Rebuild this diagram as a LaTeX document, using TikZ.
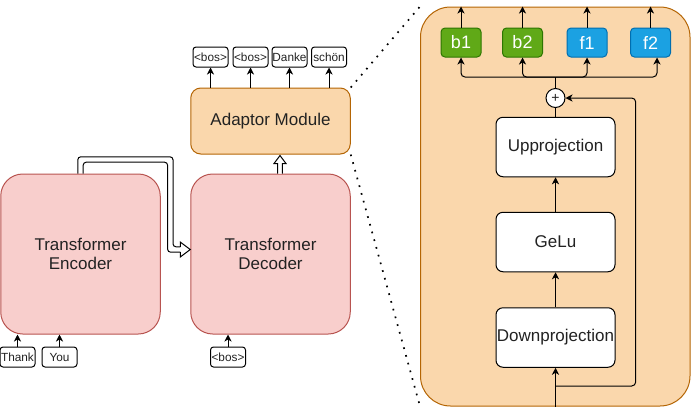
\documentclass[tikz,border=0pt]{standalone}
\usepackage{fontspec}
\setmainfont{Liberation Sans}
\usetikzlibrary{arrows.meta,calc}
\definecolor{redfill}{HTML}{F8CECC}
\definecolor{redline}{HTML}{B85450}
\definecolor{orfill}{HTML}{FAD7AC}
\definecolor{orline}{HTML}{B46504}
\definecolor{grfill}{HTML}{60A917}
\definecolor{grline}{HTML}{2D7600}
\definecolor{blfill}{HTML}{1BA1E2}
\definecolor{blline}{HTML}{006EAF}
\definecolor{txt}{HTML}{222222}
\newcommand\mainfs{\fontsize{17}{19.5}\selectfont}
\newcommand\tokfs{\fontsize{11.8}{13}\selectfont}
\begin{document}
\begin{tikzpicture}[x=1pt,y=-1pt,
  every node/.style={text=txt},
  bigbox/.style={draw=redline, fill=redfill, line width=1pt, rounded corners=22pt,
    minimum width=159.5pt, minimum height=160pt, align=center, font=\mainfs},
  adbox/.style={draw=orline, fill=orfill, line width=1pt, rounded corners=10pt,
    minimum width=159.5pt, minimum height=66pt, font=\mainfs},
  contbox/.style={draw=orline, fill=orfill, line width=1pt, rounded corners=30pt,
    minimum width=269.5pt, minimum height=399pt},
  token/.style={draw=black, fill=white, line width=1pt, rounded corners=3pt,
    minimum width=35pt, minimum height=20pt, inner sep=0pt, font=\tokfs},
  wbox/.style={draw=black, fill=white, line width=1pt, rounded corners=7pt,
    minimum width=119pt, minimum height=59.5pt, inner sep=0pt, font=\mainfs},
  gbox/.style={draw=grline, fill=grfill, line width=1pt, rounded corners=4pt,
    minimum width=40pt, minimum height=29pt, inner sep=0pt, font=\fontsize{18}{18}\selectfont, text=white},
  bbox/.style={draw=blline, fill=blfill, line width=1pt, rounded corners=4pt,
    minimum width=40pt, minimum height=29pt, inner sep=0pt, font=\fontsize{18}{18}\selectfont, text=white},
  arr/.style={-{Stealth[length=7pt,width=7pt,inset=2pt]}, line width=1pt, draw=black},
  ln/.style={line width=1pt, draw=black},
  hollow/.style={line width=1pt, draw=black},
  dotline/.style={line width=1.7pt, dash pattern=on 1.7pt off 6.3pt, draw=black}
]
\useasboundingbox (0,0) rectangle (691,416);

% left part
\node[bigbox] (enc) at (80.5,254) {Transformer\\Encoder};
\node[bigbox] (dec) at (270.5,254) {Transformer\\Decoder};
\node[adbox] (ad) at (270.5,121) {Adaptor Module};

\node[token] (t1) at (17.5,357) {Thank};
\node[token] (t2) at (59.5,357) {You};
\node[token] (t3) at (228,357) {<bos>};

\node[token] (o1) at (210.5,57) {<bos>};
\node[token] (o2) at (250.5,57) {<bos>};
\node[token] (o3) at (289.5,57) {Danke};
\node[token] (o4) at (329,57) {schön};

\draw[arr] (t1.north) -- (t1.north |- enc.south);
\draw[arr] (t2.north) -- (t2.north |- enc.south);
\draw[arr] (t3.north) -- (t3.north |- dec.south);
\foreach \o in {o1,o2,o3,o4} \draw[arr] (\o.south |- ad.north) -- (\o.south);

% hollow arrow encoder -> decoder
\coordinate (e0) at (enc.north);
\coordinate (e1) at (80.5,159.5);
\coordinate (e2) at (170.3,159.5);
\coordinate (e3) at (170.3,249.5);
\coordinate (et) at (dec.west |- e3);
\draw[hollow, rounded corners=3pt] ($(e0)+(-2.7,0)$) -- ($(e1)+(-2.7,-2.7)$) -- ($(e2)+(2.7,-2.7)$) -- ($(e3)+(2.7,-2.7)$) -- ($(et)+(-10,-2.7)$);
\draw[hollow] ($(et)+(-10,-2.7)$) -- ($(et)+(-10,-7.5)$) -- (et) -- ($(et)+(-10,7.5)$) -- ($(et)+(-10,2.7)$);
\draw[hollow, rounded corners=3pt] ($(et)+(-10,2.7)$) -- ($(e3)+(-2.7,2.7)$) -- ($(e2)+(-2.7,2.7)$) -- ($(e1)+(2.7,2.7)$) -- ($(e0)+(2.7,0)$);

% hollow arrow decoder -> adaptor
\coordinate (da) at ($(dec.north)+(9.5,0)$);
\coordinate (dt) at ($(da |- ad.south)+(0,1)$);
\draw[hollow, fill=white] ($(da)+(-2.4,0)$) -- ($(dt)+(-2.4,8)$) -- ($(dt)+(-6,8)$) -- (dt) -- ($(dt)+(6,8)$) -- ($(dt)+(2.4,8)$) -- ($(da)+(2.4,0)$);

% container
\node[contbox] (cont) at (555.25,206.5) {};
\draw[dotline] (ad.north east) -- (cont.north west);
\draw[dotline] (ad.south east) -- (cont.south west);

\node[wbox] (up) at (555.5,147) {Upprojection};
\node[wbox] (gelu) at (555.5,242) {GeLu};
\node[wbox] (down) at (555.5,337.5) {Downprojection};
\node[circle, draw=black, fill=white, line width=1pt, minimum size=19pt, inner sep=0pt,
  font=\fontsize{14}{14}\selectfont] (plus) at (555.5,98) {+};

\node[gbox] (b1) at (461,42.5) {b1};
\node[gbox] (b2) at (522.5,42.5) {b2};
\node[bbox] (f1) at (587,42.5) {f1};
\node[bbox] (f2) at (650.5,42.5) {f2};

\foreach \b in {b1,b2,f1,f2} \draw[arr] (\b.north) -- (\b.north |- cont.north);

\coordinate (fan) at (555.5,77);
\draw[ln] (plus.north) -- (fan);
\draw[arr, rounded corners=4pt] (fan) -| (b1.south);
\draw[arr, rounded corners=4pt] (fan) -| (b2.south);
\draw[arr, rounded corners=4pt] (fan) -| (f1.south);
\draw[arr, rounded corners=4pt] (fan) -| ($(f2.south)+(6.5,0)$);

\draw[ln] (up.north) -- (plus.south);
\draw[arr] (gelu.north) -- (up.south);
\draw[arr] (down.north) -- (gelu.south);

\coordinate (in) at (down.south |- cont.south);
\draw[arr] (in) -- (down.south);
\coordinate (rs) at (555.5,386);
\coordinate (rr) at (635.7,386);
\draw[arr, rounded corners=4pt] (rs) -- (rr) |- (plus.east);
\end{tikzpicture}
\end{document}
